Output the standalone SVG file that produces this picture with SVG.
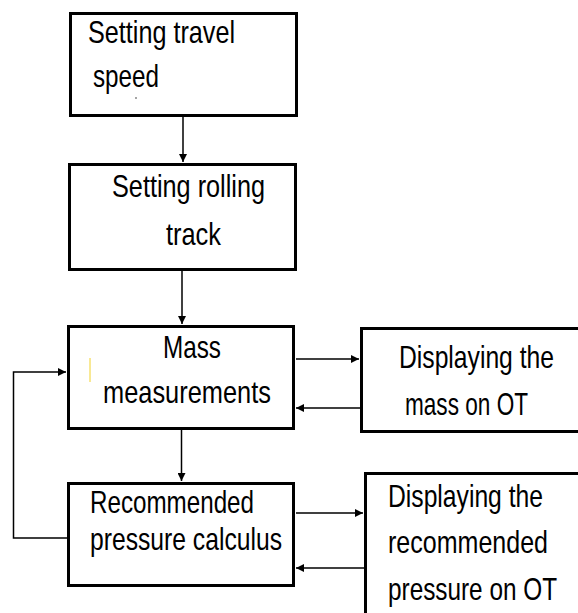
<svg xmlns="http://www.w3.org/2000/svg" width="578" height="613" viewBox="0 0 578 613">
<style>
.box{fill:#fff;stroke:#000;stroke-width:3}
.c{fill:none;stroke:#000;stroke-width:1.5}
.t{font-family:"Liberation Sans",Arial,sans-serif;font-size:27px;fill:#000}
</style>
<defs>
<marker id="ah" markerUnits="userSpaceOnUse" markerWidth="9" markerHeight="8" refX="8" refY="4" orient="auto">
<path d="M0,0 L8,4 L0,8 Z" fill="#000"/>
</marker>
</defs>
<rect width="578" height="613" fill="#fff"/>
<g id="connectors">
<line class="c" x1="183" y1="117" x2="183" y2="162" marker-end="url(#ah)"/>
<line class="c" x1="182" y1="271" x2="182" y2="324" marker-end="url(#ah)"/>
<line class="c" x1="181.5" y1="430" x2="181.5" y2="481" marker-end="url(#ah)"/>
<line class="c" x1="296" y1="359" x2="359" y2="359" marker-end="url(#ah)"/>
<line class="c" x1="360" y1="408" x2="296" y2="408" marker-end="url(#ah)"/>
<line class="c" x1="296" y1="513" x2="363" y2="513" marker-end="url(#ah)"/>
<line class="c" x1="364" y1="568" x2="296" y2="568" marker-end="url(#ah)"/>
<polyline class="c" points="67,538 13.5,538 13.5,372 66,372" marker-end="url(#ah)"/>
</g>
<g id="n1">
<rect class="box" x="70.5" y="13.5" width="226" height="102"/>
<text class="t" transform="translate(88,43) scale(1,1.15)" textLength="147" lengthAdjust="spacingAndGlyphs">Setting travel</text>
<text class="t" transform="translate(93,87) scale(1,1.15)" textLength="66" lengthAdjust="spacingAndGlyphs">speed</text>
<circle cx="136" cy="98" r="0.8" fill="#333"/>
</g>
<g id="n2">
<rect class="box" x="69.5" y="164.5" width="226" height="105"/>
<text class="t" transform="translate(112,197) scale(1,1.15)" textLength="153" lengthAdjust="spacingAndGlyphs">Setting rolling</text>
<text class="t" transform="translate(166,245) scale(1,1.15)" textLength="55" lengthAdjust="spacingAndGlyphs">track</text>
</g>
<g id="n3">
<rect class="box" x="68.5" y="326.5" width="225" height="102"/>
<line x1="90" y1="358" x2="90" y2="382" stroke="#f2d22a" stroke-width="1"/>
<text class="t" transform="translate(163,358) scale(1,1.15)" textLength="58" lengthAdjust="spacingAndGlyphs">Mass</text>
<text class="t" transform="translate(103,403) scale(1,1.15)" textLength="168" lengthAdjust="spacingAndGlyphs">measurements</text>
</g>
<g id="n4">
<rect class="box" x="361.5" y="328.5" width="222" height="103"/>
<text class="t" transform="translate(399,368) scale(1,1.15)" textLength="155" lengthAdjust="spacingAndGlyphs">Displaying the</text>
<text class="t" transform="translate(405,415) scale(1,1.15)" textLength="123" lengthAdjust="spacingAndGlyphs">mass on OT</text>
</g>
<g id="n5">
<rect class="box" x="68.5" y="483.5" width="225" height="102"/>
<text class="t" transform="translate(90,513) scale(1,1.15)" textLength="164" lengthAdjust="spacingAndGlyphs">Recommended</text>
<text class="t" transform="translate(90,550) scale(1,1.15)" textLength="192" lengthAdjust="spacingAndGlyphs">pressure calculus</text>
</g>
<g id="n6">
<rect class="box" x="365.5" y="473.5" width="220" height="150"/>
<text class="t" transform="translate(388,507) scale(1,1.15)" textLength="155" lengthAdjust="spacingAndGlyphs">Displaying the</text>
<text class="t" transform="translate(388,553) scale(1,1.15)" textLength="160" lengthAdjust="spacingAndGlyphs">recommended</text>
<text class="t" transform="translate(388,600) scale(1,1.15)" textLength="169" lengthAdjust="spacingAndGlyphs">pressure on OT</text>
</g>
</svg>
